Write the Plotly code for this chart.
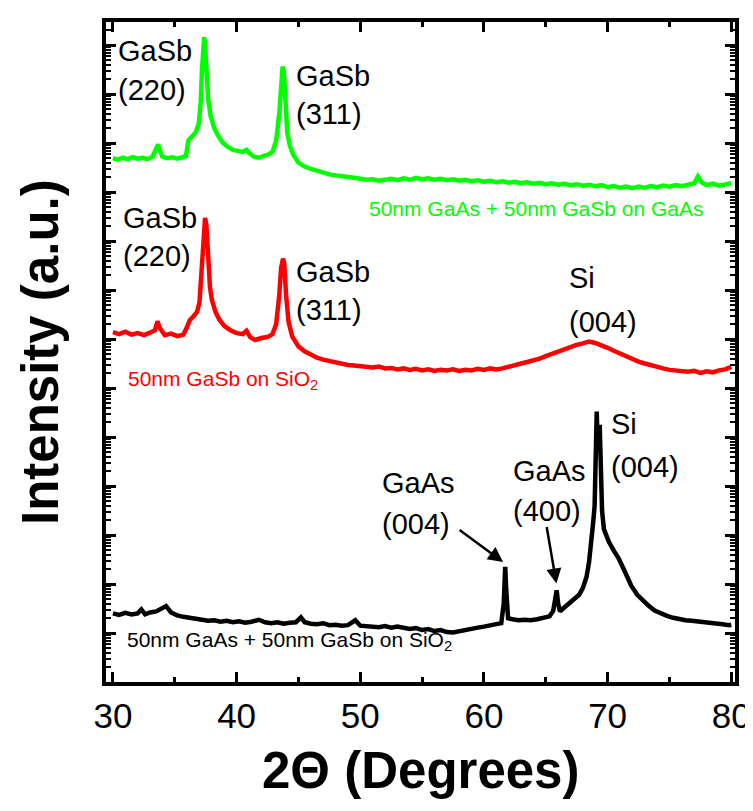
import plotly.graph_objects as go
import numpy as np

# ---------------- data (2-theta in degrees, log10 intensity in a.u., offset-stacked) -------------
green_2theta = [30.0, 30.4, 30.8, 31.2, 31.6, 32.0, 32.4, 32.8, 33.2, 33.5, 33.65, 33.8, 34.0, 34.4, 34.8,
                35.2, 35.6, 35.9, 36.1, 36.4, 36.7, 36.95, 37.1, 37.2, 37.3, 37.38, 37.45, 37.55, 37.7,
                37.9, 38.2, 38.5, 38.9, 39.3, 39.7, 40.1, 40.5, 40.8, 41.0, 41.4, 41.8, 42.2, 42.6, 42.9,
                43.2, 43.45, 43.6, 43.72, 43.82, 43.95, 44.1, 44.3, 44.6, 45.0, 45.5, 46.0, 46.5, 47.0,
                47.5, 48.0, 48.5, 49.0, 49.5, 50.0, 50.5, 51.0, 51.5, 52.0, 52.5, 53.0, 53.5, 54.0, 54.5,
                55.0, 55.5, 56.0, 56.5, 57.0, 57.5, 58.0, 58.5, 59.0, 59.5, 60.0, 60.5, 61.0, 61.5, 62.0,
                62.5, 63.0, 63.5, 64.0, 64.5, 65.0, 65.5, 66.0, 66.5, 67.0, 67.5, 68.0, 68.5, 69.0, 69.5,
                70.0, 70.5, 71.0, 71.5, 72.0, 72.5, 73.0, 73.5, 74.0, 74.5, 75.0, 75.5, 76.0, 76.5, 77.0,
                77.3, 77.6, 78.0, 78.5, 79.0, 79.5, 80.0]
green_log_intensity = [10.69, 10.66, 10.70, 10.67, 10.71, 10.68, 10.70, 10.67, 10.72, 10.90, 10.97, 10.85, 10.72,
                       10.69, 10.71, 10.68, 10.70, 10.73, 11.05, 11.15, 11.22, 11.40, 11.85, 12.50, 13.05, 13.16,
                       13.00, 12.40, 11.90, 11.55, 11.30, 11.15, 11.00, 10.92, 10.86, 10.84, 10.82, 10.86, 10.80,
                       10.72, 10.70, 10.74, 10.77, 10.82, 11.05, 11.60, 12.30, 12.56, 12.45, 11.90, 11.20, 10.95,
                       10.75, 10.60, 10.52, 10.47, 10.43, 10.40, 10.36, 10.34, 10.33, 10.30, 10.29, 10.27, 10.25,
                       10.26, 10.23, 10.25, 10.27, 10.24, 10.28, 10.25, 10.29, 10.26, 10.28, 10.25, 10.27, 10.24,
                       10.26, 10.23, 10.25, 10.22, 10.24, 10.21, 10.23, 10.20, 10.22, 10.19, 10.21, 10.18, 10.20,
                       10.17, 10.19, 10.16, 10.18, 10.15, 10.17, 10.14, 10.16, 10.13, 10.15, 10.12, 10.14, 10.10,
                       10.12, 10.09, 10.11, 10.08, 10.11, 10.09, 10.12, 10.10, 10.13, 10.11, 10.14, 10.12, 10.15,
                       10.18, 10.32, 10.20, 10.14, 10.17, 10.13, 10.16, 10.18]

red_2theta = [30.0, 30.5, 31.0, 31.5, 32.0, 32.5, 33.0, 33.4, 33.6, 33.8, 34.2, 34.7, 35.2, 35.7, 36.0, 36.2,
              36.5, 36.8, 37.0, 37.15, 37.3, 37.45, 37.55, 37.7, 37.85, 38.0, 38.3, 38.6, 39.0, 39.5, 40.0,
              40.5, 40.8, 41.1, 41.5, 42.0, 42.5, 42.9, 43.2, 43.45, 43.6, 43.75, 43.85, 44.0, 44.2, 44.5,
              45.0, 45.5, 46.0, 46.5, 47.0, 47.5, 48.0, 48.5, 49.0, 49.5, 50.0, 50.5, 51.0, 51.5, 52.0, 52.5,
              53.0, 53.5, 54.0, 54.5, 55.0, 55.5, 56.0, 56.5, 57.0, 57.5, 58.0, 58.5, 59.0, 59.5, 60.0, 60.5,
              61.0, 61.5, 62.0, 62.5, 63.0, 63.5, 64.0, 64.5, 65.0, 65.5, 66.0, 66.5, 67.0, 67.5, 68.0, 68.5,
              69.0, 69.5, 70.0, 70.5, 71.0, 71.5, 72.0, 72.5, 73.0, 73.5, 74.0, 74.5, 75.0, 75.5, 76.0, 76.5,
              77.0, 77.5, 78.0, 78.5, 79.0, 79.5, 80.0]
red_log_intensity = [7.14, 7.10, 7.15, 7.09, 7.12, 7.08, 7.13, 7.18, 7.36, 7.22, 7.08, 7.11, 7.06, 7.09, 7.25,
                     7.38, 7.46, 7.55, 7.75, 8.30, 9.00, 9.47, 9.35, 8.60, 8.05, 7.80, 7.55, 7.40, 7.27, 7.18,
                     7.12, 7.10, 7.17, 7.04, 6.98, 7.02, 7.04, 7.10, 7.30, 7.90, 8.45, 8.64, 8.55, 7.90, 7.35,
                     7.05, 6.85, 6.75, 6.68, 6.62, 6.58, 6.55, 6.52, 6.50, 6.47, 6.46, 6.44, 6.43, 6.42, 6.44,
                     6.40, 6.41, 6.38, 6.40, 6.37, 6.39, 6.36, 6.38, 6.35, 6.37, 6.36, 6.38, 6.35, 6.37, 6.36,
                     6.39, 6.37, 6.40, 6.38, 6.40, 6.44, 6.47, 6.50, 6.53, 6.56, 6.60, 6.65, 6.70, 6.75, 6.80,
                     6.84, 6.88, 6.91, 6.95, 6.92, 6.88, 6.82, 6.76, 6.70, 6.64, 6.58, 6.54, 6.50, 6.46, 6.42,
                     6.40, 6.37, 6.36, 6.34, 6.33, 6.35, 6.31, 6.34, 6.32, 6.36, 6.38, 6.43]

black_2theta = [30.0, 30.5, 31.0, 31.5, 32.0, 32.3, 32.6, 33.0, 33.5, 34.0, 34.3, 34.7, 35.2, 35.7, 36.2, 36.7,
                37.2, 37.7, 38.2, 38.7, 39.2, 39.7, 40.2, 40.7, 41.2, 41.8, 42.3, 42.8, 43.3, 43.8, 44.3, 44.8,
                45.2, 45.5, 46.0, 46.5, 47.0, 47.5, 48.0, 48.5, 49.0, 49.6, 50.0, 50.5, 51.0, 51.5, 52.0, 52.5,
                53.0, 53.5, 54.0, 54.5, 55.0, 55.5, 56.0, 56.5, 57.0, 57.5, 58.0, 58.5, 59.0, 59.5, 60.0, 60.5,
                61.0, 61.4, 61.6, 61.72, 61.8, 61.95, 62.3, 62.8, 63.3, 63.8, 64.3, 64.8, 65.3, 65.6, 65.78,
                65.88, 66.0, 66.15, 66.4, 66.7, 67.0, 67.4, 67.7, 68.0, 68.3, 68.5, 68.7, 68.85, 68.95, 69.05,
                69.12, 69.2, 69.28, 69.36, 69.45, 69.55, 69.7, 69.9, 70.1, 70.5, 70.9, 71.4, 71.9, 72.4, 72.9,
                73.3, 73.8, 74.3, 74.8, 75.3, 75.8, 76.3, 76.8, 77.3, 77.8, 78.3, 78.8, 79.3, 79.8, 80.0]
black_log_intensity = [1.40, 1.37, 1.41, 1.38, 1.40, 1.48, 1.38, 1.42, 1.44, 1.52, 1.55, 1.42, 1.36, 1.33, 1.30,
                       1.29, 1.27, 1.25, 1.26, 1.23, 1.25, 1.22, 1.24, 1.21, 1.23, 1.27, 1.22, 1.20, 1.22, 1.19,
                       1.21, 1.22, 1.32, 1.22, 1.19, 1.18, 1.20, 1.16, 1.17, 1.15, 1.16, 1.26, 1.15, 1.14, 1.15,
                       1.12, 1.14, 1.11, 1.13, 1.10, 1.08, 1.10, 1.06, 1.08, 1.04, 1.06, 1.02, 1.01, 1.04, 1.06,
                       1.09, 1.11, 1.13, 1.15, 1.17, 1.20, 1.60, 2.35, 1.90, 1.30, 1.28, 1.26, 1.27, 1.26, 1.28,
                       1.30, 1.34, 1.45, 1.85, 1.87, 1.60, 1.44, 1.50, 1.56, 1.62, 1.70, 1.78, 1.92, 2.15, 2.45,
                       2.85, 3.30, 3.60, 4.40, 5.52, 4.80, 4.70, 5.25, 4.30, 3.50, 3.12, 2.95, 2.86, 2.68, 2.52,
                       2.25, 1.97, 1.78, 1.64, 1.56, 1.46, 1.40, 1.35, 1.31, 1.28, 1.26, 1.25, 1.24, 1.22, 1.21,
                       1.19, 1.18, 1.16, 1.17]

x_tick_values = [30, 40, 50, 60, 70, 80]
x_tick_labels = ["30", "40", "50", "60", "70", "80"]

series = [
    (black_2theta, black_log_intensity, "black", "50nm GaAs + 50nm GaSb on SiO2"),
    (red_2theta, red_log_intensity, "#ff0000", "50nm GaSb on SiO2"),
    (green_2theta, green_log_intensity, "#00ff00", "50nm GaAs + 50nm GaSb on GaAs"),
]

fig = go.Figure()
for xs, ls, col, name in series:
    fig.add_trace(go.Scatter(x=xs, y=10 ** np.array(ls), mode="lines", name=name,
                             line=dict(color=col, width=4.5), showlegend=False))

TXT = "Liberation Sans, Arial, sans-serif"

def label(x, y, text, size=29, color="black"):
    fig.add_annotation(x=x, y=y, xref="x", yref="y", text=text, showarrow=False,
                       xanchor="left", yanchor="middle",
                       font=dict(family=TXT, size=size, color=color))

# peak labels (x in degrees, y in log10 units of the log axis)
label(30.24, 12.88, "GaSb"); label(30.24, 12.09, "(220)")
label(44.62, 12.37, "GaSb"); label(44.62, 11.60, "(311)")
label(30.64, 9.47, "GaSb"); label(30.64, 8.70, "(220)")
label(44.62, 8.36, "GaSb"); label(44.62, 7.59, "(311)")
label(66.74, 8.24, "Si"); label(66.74, 7.34, "(004)")
label(51.57, 4.06, "GaAs"); label(51.57, 3.23, "(004)")
label(62.19, 4.30, "GaAs"); label(62.19, 3.49, "(400)")
label(70.10, 5.27, "Si"); label(70.10, 4.38, "(004)")

# sample labels
label(50.53, 9.66, "50nm GaAs + 50nm GaSb on GaAs", size=21, color="#00ff00")
label(31.04, 6.17, "50nm GaSb on SiO<sub>2</sub>", size=21, color="#ff0000")
label(30.96, 0.83, "50nm GaAs + 50nm GaSb on SiO<sub>2</sub>", size=21, color="black")

# arrows
for hx, hy, ax, ay in [(61.55, 2.45, -45, -33), (65.86, 2.01, -10, -58)]:
    fig.add_annotation(x=hx, y=hy, xref="x", yref="y", text="", showarrow=True,
                       ax=ax, ay=ay, arrowhead=2, arrowsize=1.2, arrowwidth=2.5, arrowcolor="black")

# axis titles
fig.add_annotation(x=0.5, y=0, xref="paper", yref="paper", text="<b>2Θ (Degrees)</b>",
                   showarrow=False, xanchor="center", yanchor="middle", yshift=-88,
                   font=dict(family=TXT, size=51, color="black"))
fig.add_annotation(x=0, y=0.5, xref="paper", yref="paper", text="<b>Intensity (a.u.)</b>",
                   showarrow=False, xanchor="center", yanchor="middle", xshift=-66, textangle=-90,
                   font=dict(family=TXT, size=51, color="black"))

fig.update_xaxes(range=[29.44, 80.3], tickvals=x_tick_values, ticktext=x_tick_labels,
                 ticks="inside", ticklen=10, tickwidth=3, tickcolor="black",
                 minor=dict(ticks="inside", dtick=5, ticklen=5, tickwidth=3, tickcolor="black", showgrid=False),
                 showline=True, linewidth=4, linecolor="black", mirror="allticks",
                 showgrid=False, zeroline=False, ticklabeloverflow="allow",
                 tickfont=dict(family=TXT, size=35, color="black"))
fig.update_yaxes(type="log", range=[0, 13.47], dtick=1, showticklabels=False,
                 ticks="inside", ticklen=10, tickwidth=3, tickcolor="black",
                 minor=dict(ticks="inside", dtick="D1", ticklen=5, tickwidth=2, tickcolor="black", showgrid=False),
                 showline=True, linewidth=4, linecolor="black", mirror="allticks",
                 showgrid=False, zeroline=False)

fig.update_layout(width=753, height=811, margin=dict(l=98, r=18, t=10, b=137),
                  plot_bgcolor="white", paper_bgcolor="white")

fig.write_html("out.html")
